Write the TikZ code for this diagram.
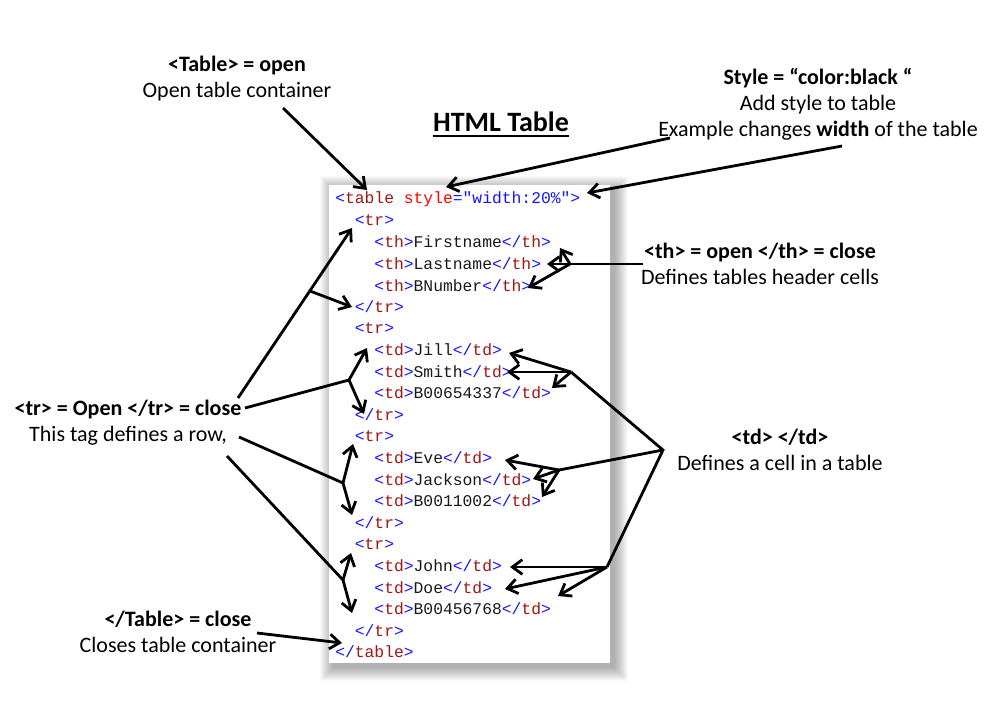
\documentclass[tikz,border=0pt]{standalone}
\usepackage{fontspec}
\setmainfont{Carlito}
\setmonofont{Liberation Mono}
\usepackage{tikz}
\usetikzlibrary{positioning, arrows.meta}

\definecolor{tagbrk}{RGB}{20,20,255}
\definecolor{tagname}{RGB}{163,21,21}
\definecolor{attrname}{RGB}{255,0,0}
\definecolor{codetext}{RGB}{25,25,25}

\newcommand{\htmlopen}[1]{\textcolor{tagbrk}{<}\textcolor{tagname}{#1}\textcolor{tagbrk}{>}}
\newcommand{\htmlclose}[1]{\textcolor{tagbrk}{</}\textcolor{tagname}{#1}\textcolor{tagbrk}{>}}

\begin{document}
\begin{tikzpicture}[
  x=0.75pt, y=-0.75pt,
  font=\fontsize{16.5}{19.5}\selectfont,
  lbl/.style={align=center, inner sep=0pt},
  codeline/.style={anchor=west, inner sep=0pt, text=codetext,
    font=\ttfamily\fontsize{12.25}{14}\selectfont},
  arr/.style={-{Straight Barb[length=7.5pt, width=11pt]}, line width=2.1pt},
  ln/.style={line width=2.1pt}
]

\useasboundingbox[fill=white] (0,0) rectangle (1008,728);

% labels
\node[lbl] (tblopen) at (237,79) {\textbf{<Table> = open}\\Open table container};
\node[lbl, font=\bfseries\fontsize{21}{25}\selectfont] (title) at (501,122) {HTML Table};
\draw[line width=1.5pt] ([yshift=-3pt]title.base west) -- ([yshift=-3pt]title.base east);
\node[lbl] (stylelbl) at (818,104) {\textbf{Style = “color:black “}\\Add style to table\\Example changes \textbf{width} of the table};
\node[lbl] (thlbl) at (760,264) {\textbf{<th> = open </th> = close}\\Defines tables header cells};
\node[lbl] (tdlbl) at (780,450) {\textbf{<td> </td>}\\Defines a cell in a table};
\node[lbl] (trlbl) at (128,423) {\textbf{<tr> = Open </tr> = close}\\This tag defines a row,};
\node[lbl] (tblclose) at (178,632) {\textbf{</Table> = close}\\Closes table container};

% code window with soft shadow
\foreach \s in {1,...,14}
  \fill[black, opacity=0.022] ({334-\s},{190-\s}) rectangle ({614+\s},{667+\s});
\fill[white] (329,185) rectangle (610,663);

\foreach \ind/\txt [count=\n] in {
  0/{\textcolor{tagbrk}{<}\textcolor{tagname}{table} \textcolor{attrname}{style}\textcolor{tagbrk}{="width:20\%">}},
  1/{\htmlopen{tr}},
  2/{\htmlopen{th}Firstname\htmlclose{th}},
  2/{\htmlopen{th}Lastname\htmlclose{th}},
  2/{\htmlopen{th}BNumber\htmlclose{th}},
  1/{\htmlclose{tr}},
  1/{\htmlopen{tr}},
  2/{\htmlopen{td}Jill\htmlclose{td}},
  2/{\htmlopen{td}Smith\htmlclose{td}},
  2/{\htmlopen{td}B00654337\htmlclose{td}},
  1/{\htmlclose{tr}},
  1/{\htmlopen{tr}},
  2/{\htmlopen{td}Eve\htmlclose{td}},
  2/{\htmlopen{td}Jackson\htmlclose{td}},
  2/{\htmlopen{td}B0011002\htmlclose{td}},
  1/{\htmlclose{tr}},
  1/{\htmlopen{tr}},
  2/{\htmlopen{td}John\htmlclose{td}},
  2/{\htmlopen{td}Doe\htmlclose{td}},
  2/{\htmlopen{td}B00456768\htmlclose{td}},
  1/{\htmlclose{tr}},
  0/{\htmlclose{table}}}
  \node[codeline] (c\n) at ({335+19.6*\ind},{199+21.57*(\n-1)}) {\txt};

% arrow ends
\coordinate (opentail) at (283,108);
\coordinate (opentip) at (367,190);
\coordinate (styletail1) at (670,138);
\coordinate (styletip1) at (446,187);
\coordinate (styletail2) at (842,146);
\coordinate (styletip2) at (587,193);
\coordinate (thtail) at (643,264);
\coordinate (thj) at (570,264);
\coordinate (tdj) at (663,450);
\coordinate (tdja) at (571,372);
\coordinate (tdjb) at (559,470);
\coordinate (tdjc) at (607,567);
\coordinate (trtail1) at (238,398);
\coordinate (trj1) at (310,291);
\coordinate (trtail2) at (245,408);
\coordinate (trj2) at (349,380);
\coordinate (trtail3) at (239,437);
\coordinate (trj3) at (343,483);
\coordinate (trtail4) at (227,456);
\coordinate (trj4) at (343,580);
\coordinate (closetail) at (257,633);
\coordinate (closetip) at (342,643);

% table and style
\draw[arr] (opentail) -- (opentip);
\draw[arr] (styletail1) -- (styletip1);
\draw[arr] (styletail2) -- (styletip2);
\draw[arr] (closetail) -- (closetip);

% header cells
\draw[ln] (thtail) -- (thj);
\draw[arr] (thj) -- (560,248);
\draw[arr] (thj) -- (547,264);
\draw[arr] (thj) -- (528,288);

% data cells
\draw[ln] (tdja) -- (tdj) -- (tdjc);
\draw[ln] (tdj) -- (tdjb);
\draw[arr] (tdja) -- (509,353);
\draw[arr] (tdja) -- (507,372);
\draw[arr] (tdja) -- (552,388);
\draw[arr] (tdjb) -- (505,460);
\draw[arr] (tdjb) -- (533,479);
\draw[arr] (tdjb) -- (542,497);
\draw[arr] (tdjc) -- (510,567);
\draw[arr] (tdjc) -- (505,589);
\draw[arr] (tdjc) -- (558,596);

% rows
\draw[arr] (trtail1) -- (352,228);
\draw[arr] (trj1) -- (352,307);
\draw[ln] (trtail2) -- (trj2);
\draw[arr] (trj2) -- (367,348);
\draw[arr] (trj2) -- (364,414);
\draw[ln] (trtail3) -- (trj3);
\draw[arr] (trj3) -- (353,444);
\draw[arr] (trj3) -- (352,515);
\draw[ln] (trtail4) -- (trj4);
\draw[arr] (trj4) -- (351,553);
\draw[arr] (trj4) -- (352,613);

\end{tikzpicture}
\end{document}
